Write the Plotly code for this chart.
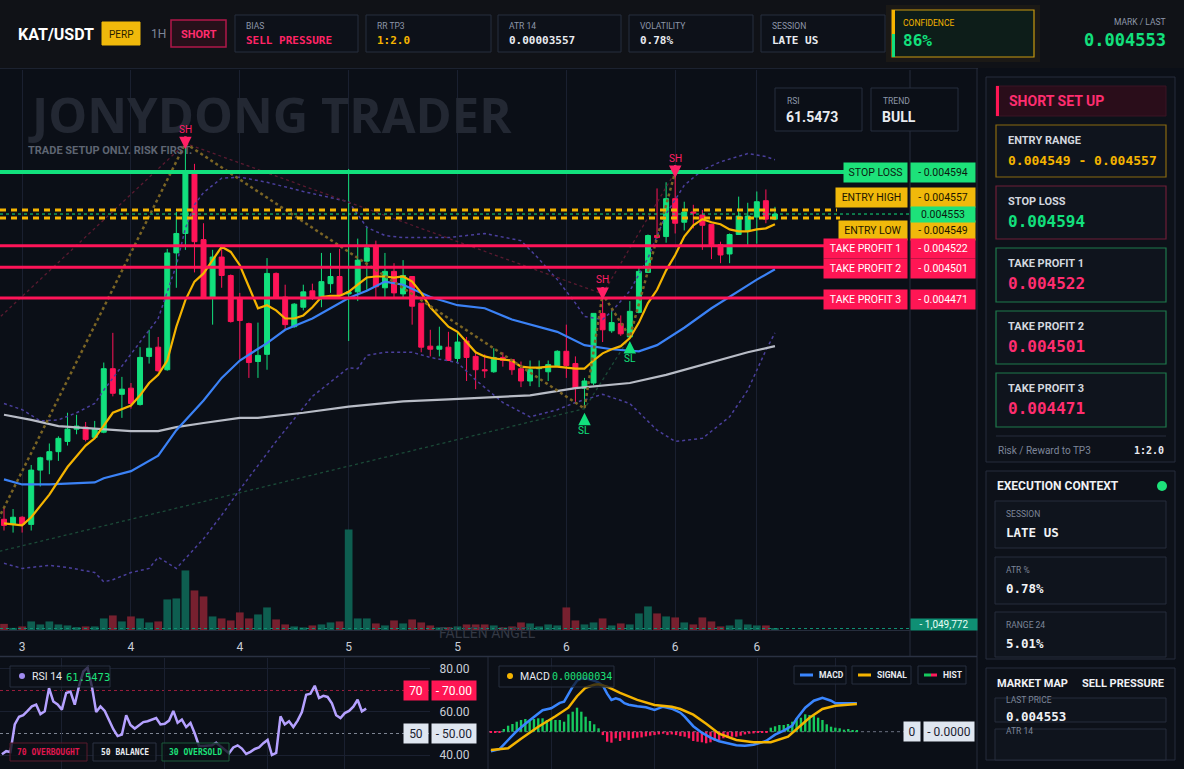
import plotly.graph_objects as go

W, H = 1184, 769

# ---- KAT/USDT 1H candles, oldest first ----
open_ = [0.004255, 0.004250, 0.004257, 0.004250, 0.004303, 0.004313, 0.004321, 0.004331, 0.004343, 0.004345,
         0.004335, 0.004340, 0.004402, 0.004377, 0.004383, 0.004367, 0.004414, 0.004423, 0.004401, 0.004515,
         0.004534, 0.004594, 0.004528, 0.004472, 0.004511, 0.004493, 0.004470, 0.004446, 0.004409, 0.004416,
         0.004495, 0.004472, 0.004443, 0.004462, 0.004478, 0.004472, 0.004485, 0.004492, 0.004475, 0.004477,
         0.004507, 0.004522, 0.004481, 0.004497, 0.004475, 0.004492, 0.004466, 0.004424, 0.004421, 0.004423,
         0.004412, 0.004429, 0.004414, 0.004401, 0.004399, 0.004413, 0.004411, 0.004402, 0.004390, 0.004402,
         0.004399, 0.004405, 0.004419, 0.004407, 0.004383, 0.004388, 0.004456, 0.004439, 0.004446, 0.004433,
         0.004457, 0.004496, 0.004532, 0.004531, 0.004568, 0.004545, 0.004555, 0.004552, 0.004543, 0.004523,
         0.004514, 0.004533, 0.004537, 0.004550, 0.004566, 0.004548]
high = [0.004266, 0.004265, 0.004258, 0.004308, 0.004316, 0.004329, 0.004336, 0.004359, 0.004357, 0.004350,
        0.004351, 0.004408, 0.004437, 0.004394, 0.004388, 0.004423, 0.004440, 0.004433, 0.004519, 0.004555,
        0.004622, 0.004602, 0.004544, 0.004518, 0.004523, 0.004494, 0.004476, 0.004447, 0.004447, 0.004510,
        0.004496, 0.004484, 0.004466, 0.004484, 0.004485, 0.004515, 0.004515, 0.004519, 0.004597, 0.004529,
        0.004541, 0.004527, 0.004515, 0.004505, 0.004508, 0.004492, 0.004466, 0.004440, 0.004443, 0.004438,
        0.004438, 0.004433, 0.004419, 0.004416, 0.004422, 0.004418, 0.004411, 0.004409, 0.004410, 0.004410,
        0.004410, 0.004420, 0.004445, 0.004414, 0.004393, 0.004456, 0.004475, 0.004460, 0.004454, 0.004468,
        0.004502, 0.004533, 0.004578, 0.004584, 0.004594, 0.004565, 0.004562, 0.004557, 0.004543, 0.004526,
        0.004534, 0.004570, 0.004564, 0.004575, 0.004577, 0.004560]
low = [0.004244, 0.004242, 0.004242, 0.004244, 0.004287, 0.004299, 0.004312, 0.004327, 0.004338, 0.004331,
       0.004334, 0.004339, 0.004375, 0.004354, 0.004363, 0.004366, 0.004407, 0.004399, 0.004400, 0.004481,
       0.004518, 0.004496, 0.004471, 0.004445, 0.004481, 0.004447, 0.004411, 0.004393, 0.004393, 0.004401,
       0.004472, 0.004440, 0.004442, 0.004459, 0.004469, 0.004462, 0.004476, 0.004471, 0.004429, 0.004468,
       0.004479, 0.004472, 0.004472, 0.004471, 0.004470, 0.004445, 0.004418, 0.004414, 0.004414, 0.004410,
       0.004407, 0.004390, 0.004382, 0.004393, 0.004398, 0.004404, 0.004396, 0.004384, 0.004385, 0.004384,
       0.004390, 0.004404, 0.004393, 0.004368, 0.004363, 0.004386, 0.004428, 0.004437, 0.004434, 0.004433,
       0.004456, 0.004496, 0.004529, 0.004525, 0.004534, 0.004537, 0.004539, 0.004518, 0.004509, 0.004505,
       0.004505, 0.004533, 0.004523, 0.004524, 0.004544, 0.004547]
close = [0.004249, 0.004257, 0.004250, 0.004303, 0.004315, 0.004321, 0.004334, 0.004343, 0.004346, 0.004333,
         0.004343, 0.004402, 0.004378, 0.004382, 0.004368, 0.004413, 0.004422, 0.004400, 0.004515, 0.004534,
         0.004594, 0.004526, 0.004472, 0.004511, 0.004493, 0.004448, 0.004449, 0.004408, 0.004415, 0.004495,
         0.004472, 0.004445, 0.004465, 0.004477, 0.004471, 0.004487, 0.004492, 0.004474, 0.004477, 0.004508,
         0.004520, 0.004482, 0.004497, 0.004476, 0.004493, 0.004463, 0.004423, 0.004421, 0.004424, 0.004410,
         0.004428, 0.004413, 0.004401, 0.004400, 0.004413, 0.004410, 0.004401, 0.004390, 0.004401, 0.004403,
         0.004406, 0.004419, 0.004405, 0.004383, 0.004390, 0.004456, 0.004440, 0.004447, 0.004436, 0.004458,
         0.004497, 0.004532, 0.004530, 0.004568, 0.004544, 0.004555, 0.004554, 0.004542, 0.004523, 0.004513,
         0.004533, 0.004551, 0.004551, 0.004565, 0.004548, 0.004553]
volume = [4.3e6, 1.5e6, 2.5e6, 6.0e6, 3.9e6, 6.0e6, 3.9e6, 3.2e6, 2.0e6, 2.5e6,
          2.5e6, 8.1e6, 10.2e6, 6.0e6, 9.5e6, 8.1e6, 5.3e6, 6.0e6, 21.4e6, 22.1e6,
          41.7e6, 27.7e6, 23.5e6, 9.5e6, 8.1e6, 6.7e6, 12.3e6, 8.1e6, 10.9e6, 15.8e6,
          7.4e6, 3.9e6, 2.5e6, 1.8e6, 3.2e6, 3.9e6, 5.3e6, 6.0e6, 70.4e6, 8.1e6,
          8.1e6, 4.6e6, 3.2e6, 6.7e6, 4.6e6, 7.4e6, 5.3e6, 3.2e6, 1.8e6, 2.0e6,
          2.5e6, 3.9e6, 3.9e6, 3.9e6, 3.2e6, 1.8e6, 2.5e6, 5.3e6, 4.6e6, 2.5e6,
          3.9e6, 3.2e6, 15.8e6, 6.7e6, 3.9e6, 5.3e6, 8.1e6, 3.2e6, 4.6e6, 3.9e6,
          11.6e6, 16.5e6, 11.6e6, 9.5e6, 8.8e6, 5.3e6, 3.9e6, 8.8e6, 6.0e6, 2.5e6,
          3.2e6, 7.4e6, 3.9e6, 3.2e6, 3.2e6, 1049772]

# moving averages / bands at these candle indices
ema_fast_x = [0, 2, 3, 5, 7, 9, 10, 11, 12, 14] + list(range(15, 86))
ema_fast = [0.004251, 0.004249, 0.004257, 0.004279, 0.004306, 0.004327, 0.004334, 0.004347, 0.004359, 0.004366,
            0.004376, 0.004388, 0.004396, 0.004410, 0.004443, 0.004469, 0.004487, 0.004495, 0.004508, 0.004521,
            0.004516, 0.004503, 0.004482, 0.004461, 0.004464, 0.004459, 0.004451, 0.004451, 0.004454, 0.004462,
            0.004472, 0.004473, 0.004473, 0.004477, 0.004484, 0.004491, 0.004492, 0.004492, 0.004491, 0.004492,
            0.004487, 0.004476, 0.004462, 0.004452, 0.004443, 0.004438, 0.004428, 0.004418, 0.004414, 0.004412,
            0.004411, 0.004410, 0.004404, 0.004403, 0.004403, 0.004404, 0.004404, 0.004403, 0.004402, 0.004402,
            0.004410, 0.004417, 0.004421, 0.004424, 0.004432, 0.004447, 0.004466, 0.004479, 0.004498, 0.004513,
            0.004531, 0.004542, 0.004548, 0.004545, 0.004543, 0.004538, 0.004536, 0.004536, 0.004538, 0.004539,
            0.004543]
ema_mid_x = [0, 2, 5, 10, 11, 14, 17, 19, 22, 24, 26, 29, 31, 34, 38, 40, 42, 44, 47, 50, 53, 56, 61, 64,
             67, 70, 72, 75, 78, 80, 83, 85]
ema_mid = [0.004294, 0.004289, 0.004289, 0.004291, 0.004295, 0.004302, 0.004317, 0.004342, 0.004371, 0.004393,
           0.004410, 0.004427, 0.004440, 0.004451, 0.004471, 0.004478, 0.004487, 0.004484, 0.004472, 0.004464,
           0.004461, 0.004450, 0.004438, 0.004425, 0.004421, 0.004419, 0.004425, 0.004442, 0.004461, 0.004472,
           0.004489, 0.004499]
ema_slow_x = [0, 3, 6, 9, 14, 17, 19, 22, 26, 28, 33, 38, 44, 49, 58, 63, 69, 73, 78, 82, 85]
ema_slow = [0.004357, 0.004352, 0.004346, 0.004344, 0.004341, 0.004341, 0.004345, 0.004349, 0.004354, 0.004354,
            0.004359, 0.004365, 0.004370, 0.004372, 0.004376, 0.004383, 0.004388, 0.004396, 0.004408, 0.004418,
            0.004424]
bb_upper_x = [0, 2, 4, 6, 8, 10, 11, 13, 15, 17, 19, 20, 21, 22, 24, 26, 29, 33, 35, 38, 40, 42, 44, 49, 53,
              57, 59, 61, 63, 64, 66, 67, 69, 71, 73, 75, 77, 79, 82, 84, 85]
bb_upper = [0.004368, 0.004362, 0.004351, 0.004352, 0.004359, 0.004368, 0.004381, 0.004405, 0.004428, 0.004451,
            0.004503, 0.004539, 0.004562, 0.004574, 0.004588, 0.004589, 0.004584, 0.004575, 0.004571, 0.004565,
            0.004540, 0.004532, 0.004530, 0.004530, 0.004534, 0.004527, 0.004509, 0.004489, 0.004466, 0.004453,
            0.004450, 0.004458, 0.004478, 0.004510, 0.004553, 0.004581, 0.004596, 0.004604, 0.004612, 0.004609,
            0.004606]
bb_lower_x = [0, 2, 5, 7, 10, 11, 12, 14, 16, 17, 19, 22, 24, 26, 30, 34, 38, 39, 40, 42, 45, 47, 50, 52, 55,
              58, 61, 63, 66, 69, 72, 74, 77, 80, 82, 84, 85]
bb_lower = [0.004212, 0.004207, 0.004210, 0.004208, 0.004203, 0.004194, 0.004196, 0.004203, 0.004207, 0.004218,
            0.004207, 0.004236, 0.004259, 0.004284, 0.004331, 0.004375, 0.004403, 0.004402, 0.004415, 0.004418,
            0.004418, 0.004413, 0.004408, 0.004391, 0.004369, 0.004355, 0.004362, 0.004369, 0.004377, 0.004368,
            0.004342, 0.004331, 0.004334, 0.004355, 0.004381, 0.004420, 0.004437]

# swing structure
swing_high_idx = [20, 66, 74]
swing_low_idx = [64, 69]
zigzag_start = (-3, 0.004213)
high_line_start = (-10, 0.004373)
low_line_start = (-5, 0.004214)

# trade levels
level_names = ['STOP LOSS', 'ENTRY HIGH', 'ENTRY LOW', 'TAKE PROFIT 1', 'TAKE PROFIT 2', 'TAKE PROFIT 3']
level_prices = [0.004594, 0.004557, 0.004549, 0.004522, 0.004501, 0.004471]
last_price = 0.004553

# RSI 14
rsi = [40.3, 41.8, 41.4, 54.2, 57.8, 58.5, 60.5, 62.6, 63.4, 59.0,
       60.3, 71.1, 64.9, 63.5, 61.1, 68.8, 69.5, 63.4, 72.0, 78.8,
       80.6, 71.8, 60.0, 62.6, 60.5, 56.0, 52.0, 48.8, 49.5, 58.5,
       54.0, 52.3, 54.0, 55.3, 55.7, 56.5, 57.2, 54.2, 54.5, 56.0,
       60.5, 55.0, 56.5, 53.0, 54.9, 50.0, 44.2, 44.2, 44.2, 44.5,
       45.7, 44.0, 42.6, 40.8, 43.5, 44.5, 43.0, 40.5, 41.5, 42.8,
       43.5, 45.5, 47.0, 40.0, 41.0, 58.0, 54.2, 55.7, 53.0, 56.0,
       60.0, 68.0, 68.5, 72.2, 66.5, 67.5, 67.0, 64.0, 58.5, 57.2,
       59.5, 60.5, 62.5, 65.7, 60.3, 61.5473]

# MACD (values in 1e-6 price units)
macd_x = [0, 2, 4, 6, 8, 10, 12, 14, 15, 16, 17, 18, 19, 20, 21, 22, 24, 25, 26, 27, 28, 29, 30, 31, 32, 34,
          36, 38, 40, 42, 44, 45, 47, 49, 51, 53, 55, 57, 59, 61, 63, 64, 66, 68, 70, 71, 73, 75, 77, 79, 80,
          83, 85]
macd_line = [-3.9, -3.5, -1.66, 0.1, 1.6, 3.0, 4.3, 4.68, 5.2, 5.76, 6.0, 7.6, 9.0, 10.2, 10.6, 10.68, 10.2,
             9.8, 9.2, 7.6, 6.34, 6.68, 6.4, 5.7, 5.4, 5.1, 4.9, 4.34, 5.0, 4.6, 3.8, 3.0, 1.1, -0.2, -1.2,
             -1.9, -2.3, -2.7, -2.8, -2.6, -2.1, -1.8, -0.6, 0.2, 1.2, 2.6, 4.8, 6.2, 6.8, 6.2, 5.68, 5.68, 5.68]
signal_x = [0, 4, 7, 11, 15, 17, 18, 20, 22, 24, 25, 27, 30, 34, 38, 42, 44, 47, 50, 53, 57, 61, 65, 69, 72,
            74, 77, 80, 85]
signal_line = [-3.66, -3.32, -1.4, 1.0, 3.1, 4.2, 4.8, 7.1, 8.8, 9.4, 9.48, 9.0, 7.76, 6.36, 5.34, 5.0, 4.54,
               3.4, 1.6, -0.4, -1.66, -2.12, -2.12, -1.0, 1.34, 2.8, 4.54, 5.2, 5.54]
macd_hist = [-0.2, -0.2, -0.14, 0.54, 1.2, 1.54, 2.0, 2.34, 2.54, 2.34,
             2.54, 2.68, 2.68, 2.34, 2.68, 2.34, 2.34, 2.0, 3.48, 4.0,
             4.8, 4.0, 3.0, 2.14, 1.48, 0.68, -0.68, -2.0, -2.2, -1.32,
             -1.86, -1.2, -1.66, -1.32, -1.2, -1.14, -0.94, -0.8, -0.68, -0.54,
             -0.4, -0.68, -0.54, -0.68, -0.88, -1.0, -1.32, -1.86, -2.0, -2.12,
             -2.32, -2.12, -1.86, -1.66, -1.32, -1.2, -1.0, -1.0, -0.8, -0.54,
             -0.4, -0.34, -0.2, -0.14, -0.14, 0.8, 1.08, 1.34, 1.34, 1.54,
             2.0, 2.68, 2.8, 3.48, 3.34, 3.2, 2.8, 2.34, 1.48, 1.0,
             0.8, 0.68, 0.4, 0.54, 0.28, 0.34]

x_tick_idx = [2, 14, 26, 38, 50, 62, 74, 83]
x_tick_text = ['3', '4', '4', '5', '5', '6', '6', '6']
sub_grid_idx = [14, 38, 62, 80]

# ------------------------------------------------------------------
UP, DN = '#12e07d', '#ff1458'
YEL, BLUE, GREY = '#f5b400', '#3b82f6', '#b8bcc6'
BG, GRID, BORDER = '#0b0f17', '#1a2030', '#262d3c'
MONO, SANS = 'DejaVu Sans Mono', 'Roboto'
XR = [-0.441, 99.89]
n = len(close)
idx = list(range(n))


def px(x):
    return x / W


def py(y):
    return 1 - y / H


shapes, ann = [], []


def rect(x0, y0, x1, y1, fill='rgba(0,0,0,0)', line='rgba(0,0,0,0)', lw=1, layer='above'):
    shapes.append(dict(type='rect', xref='paper', yref='paper', x0=px(x0), x1=px(x1), y0=py(y1), y1=py(y0),
                       fillcolor=fill, line=dict(color=line, width=lw), layer=layer))


def seg(x0, y0, x1, y1, color, lw=1, dash='solid', layer='above'):
    shapes.append(dict(type='line', xref='paper', yref='paper', x0=px(x0), x1=px(x1), y0=py(y0), y1=py(y1),
                       line=dict(color=color, width=lw, dash=dash), layer=layer))


def txt(x, y, s, size, color, family=SANS, anchor='left', bold=False):
    ann.append(dict(xref='paper', yref='paper', x=px(x), y=py(y), text='<b>%s</b>' % s if bold else s,
                    showarrow=False, xanchor=anchor, yanchor='middle',
                    font=dict(size=size, color=color, family=family)))


fig = go.Figure()

# volume (base axis y), price on overlay y2
vol_cols = ['#0e5e50' if c >= o else '#77202f' for o, c in zip(open_, close)]
fig.add_trace(go.Bar(x=idx, y=volume, marker_color=vol_cols, marker_line_width=0, width=0.85,
                     xaxis='x', yaxis='y', hoverinfo='skip'))

band = dict(color='#4a3f9c', width=1.5, dash='dot')
fig.add_trace(go.Scatter(x=bb_upper_x, y=bb_upper, mode='lines', line=band, xaxis='x', yaxis='y2'))
fig.add_trace(go.Scatter(x=bb_lower_x, y=bb_lower, mode='lines', line=band, xaxis='x', yaxis='y2'))

# swing connectors
hx = [high_line_start[0]] + swing_high_idx
hy = [high_line_start[1]] + [high[i] for i in swing_high_idx]
fig.add_trace(go.Scatter(x=hx, y=hy, mode='lines', line=dict(color='#5a1a30', width=1.3, dash='dot'),
                         xaxis='x', yaxis='y2'))
lx = [low_line_start[0]] + swing_low_idx
ly = [low_line_start[1]] + [low[i] for i in swing_low_idx]
fig.add_trace(go.Scatter(x=lx, y=ly, mode='lines', line=dict(color='#1b4a38', width=1.3, dash='dot'),
                         xaxis='x', yaxis='y2'))

fig.add_trace(go.Scatter(x=ema_slow_x, y=ema_slow, mode='lines', line=dict(color=GREY, width=2.2),
                         xaxis='x', yaxis='y2'))
fig.add_trace(go.Candlestick(x=idx, open=open_, high=high, low=low, close=close, xaxis='x', yaxis='y2',
                             increasing=dict(line=dict(color=UP, width=1), fillcolor=UP),
                             decreasing=dict(line=dict(color=DN, width=1), fillcolor=DN),
                             whiskerwidth=0, hoverinfo='skip'))
fig.add_trace(go.Scatter(x=ema_mid_x, y=ema_mid, mode='lines', line=dict(color=BLUE, width=2.2),
                         xaxis='x', yaxis='y2'))
fig.add_trace(go.Scatter(x=ema_fast_x, y=ema_fast, mode='lines', line=dict(color=YEL, width=2.2),
                         xaxis='x', yaxis='y2'))

swings = sorted([(i, high[i]) for i in swing_high_idx] + [(i, low[i]) for i in swing_low_idx])
zx = [zigzag_start[0]] + [s[0] for s in swings]
zy = [zigzag_start[1]] + [s[1] for s in swings]
fig.add_trace(go.Scatter(x=zx, y=zy, mode='lines', line=dict(color='#7a6424', width=2.5, dash='dot'),
                         xaxis='x', yaxis='y2'))

# RSI
fig.add_trace(go.Scatter(x=idx, y=rsi, mode='lines', line=dict(color='#b5a1ff', width=2.5),
                         xaxis='x2', yaxis='y3'))

# MACD
hist_vals = [v * 1e-6 for v in macd_hist]
fig.add_trace(go.Bar(x=idx, y=hist_vals, width=0.55, marker_line_width=0,
                     marker_color=['#16c95e' if v >= 0 else '#ff1a5c' for v in macd_hist],
                     xaxis='x3', yaxis='y4'))
fig.add_trace(go.Scatter(x=macd_x, y=[v * 1e-6 for v in macd_line], mode='lines',
                         line=dict(color='#3a86ff', width=2.5), xaxis='x3', yaxis='y4'))
fig.add_trace(go.Scatter(x=signal_x, y=[v * 1e-6 for v in signal_line], mode='lines',
                         line=dict(color=YEL, width=2.5), xaxis='x3', yaxis='y4'))

# ---------------- frame ----------------
rect(0, 0, W, 68, fill='#101217', layer='below')
seg(0, 68.5, 978, 68.5, '#1c2230')
seg(910, 70, 910, 656, BORDER)
seg(977, 68, 977, 769, BORDER)
seg(0, 656.5, 977, 656.5, '#2a3142', lw=1.5)
seg(488, 657, 488, 769, BORDER)

# ---------------- header ----------------
txt(16, 34, 'KAT/USDT', 16, '#ffffff', bold=True)
rect(102, 22, 140, 45, fill='#f0b90b', line='#f0b90b')
txt(121, 34, 'PERP', 10, '#2a1f00', anchor='center')
txt(149, 34, '1H', 12, '#7d8699')
rect(171, 20, 226, 47, fill='#26101a', line='#b0174a', lw=1.5)
txt(198.5, 34, 'SHORT', 11, '#ff2d6f', anchor='center', bold=True)
cards = [('BIAS', 'SELL PRESSURE', '#ff2466', 235, 358), ('RR TP3', '1:2.0', YEL, 366, 491),
         ('ATR 14', '0.00003557', '#e8ebf0', 498, 621), ('VOLATILITY', '0.78%', '#e8ebf0', 629, 753),
         ('SESSION', 'LATE US', '#e8ebf0', 761, 885)]
for lab, val, col, x0, x1 in cards:
    rect(x0, 15, x1, 52, fill='#0d1119', line='#272f3e')
    txt(x0 + 9, 26, lab, 8.5, '#8d97aa')
    txt(x0 + 9, 41, val, 11, col, family=MONO, bold=True)
rect(886, 5, 1040, 62, fill='rgba(201,154,16,0.06)')
rect(892, 10, 1034, 57, fill='#0d1d19', line='#c99a10', lw=1.2)
rect(892, 10, 895, 34, fill=YEL)
rect(892, 34, 895, 57, fill=UP)
txt(901, 23, 'CONFIDENCE', 8.5, YEL)
txt(901, 40, '86%', 16, UP, family=MONO, bold=True)
txt(1168, 22, 'MARK / LAST', 8.5, '#8d97aa', anchor='right')
txt(1168, 40, '0.004553', 17, UP, family=MONO, bold=True, anchor='right')

# ---------------- main chart overlays ----------------
txt(26, 114, 'JONYDONG TRADER', 49, '#232833', family='Open Sans', bold=True)
txt(26, 150, 'TRADE SETUP ONLY. RISK FIRST.', 11, '#5e6572', bold=True)
txt(487, 633, 'FALLEN ANGEL', 14, '#333844', anchor='center')
for x0, x1, lab, val in [(775, 862, 'RSI', '61.5473'), (871, 958, 'TREND', 'BULL')]:
    rect(x0, 88, x1, 131, fill=BG, line='#272f3e')
    txt(x0 + 10, 101, lab, 8.5, '#8d97aa')
    txt(x0 + 9, 117, val, 14, '#e8ebf0', bold=True)

# level lines
line_end = [845, 837, 840, 825, 825, 825]
line_sty = [(UP, 4, 'solid'), (YEL, 3, '6px,5px'), (YEL, 3, '6px,5px'),
            (DN, 3, 'solid'), (DN, 3, 'solid'), (DN, 3, 'solid')]
for p, x1, (col, lw, dash) in zip(level_prices, line_end, line_sty):
    shapes.append(dict(type='line', xref='paper', yref='y2', x0=0, x1=px(x1), y0=p, y1=p,
                       line=dict(color=col, width=lw, dash=dash), layer='above'))
shapes.append(dict(type='line', xref='paper', yref='y2', x0=0, x1=px(910), y0=last_price, y1=last_price,
                   line=dict(color=UP, width=1, dash='dot'), layer='above'))

tag_bg = ['#1de27a', '#f0b90b', '#f0b90b', '#ff1654', '#ff1654', '#ff1654']
tag_fg = ['#0b1a10', '#1d1600', '#1d1600', '#ffffff', '#ffffff', '#ffffff']
tag_w = [63, 71, 68, 83, 83, 83]
tag_shift = [0, 12.5, -12.5, -2.7, -1.5, -1.5]
for name, p, bg, fg, w, sh in zip(level_names, level_prices, tag_bg, tag_fg, tag_w, tag_shift):
    ann.append(dict(xref='paper', yref='y2', x=px(908), y=p, xanchor='right', yanchor='middle', yshift=sh,
                    text=name, showarrow=False, bgcolor=bg, width=w, height=19, borderpad=0,
                    font=dict(size=10.5, color=fg, family=SANS)))
    ann.append(dict(xref='paper', yref='y2', x=px(910), y=p, xanchor='left', yanchor='middle', yshift=sh,
                    text='- %.6f' % p, showarrow=False, bgcolor=bg, width=64, height=19, borderpad=0,
                    font=dict(size=10.5, color=fg, family=SANS)))
ann.append(dict(xref='paper', yref='y2', x=px(910), y=last_price, xanchor='left', yanchor='middle',
                text='%.6f' % last_price, showarrow=False, bgcolor='#1de27a', width=64, height=15,
                borderpad=0, font=dict(size=10.5, color='#0b1a10', family=SANS)))
ann.append(dict(xref='paper', yref='y', x=px(910), y=volume[-1], xanchor='left', yanchor='middle', yshift=4,
                text='- {:,.0f}'.format(volume[-1]), showarrow=False, bgcolor='#0f8f74', width=66, height=11,
                borderpad=0, font=dict(size=10, color='#e8fff6', family=SANS)))
shapes.append(dict(type='line', xref='paper', yref='y', x0=0, x1=px(910), y0=volume[-1], y1=volume[-1],
                   line=dict(color='#0f8f74', width=1, dash='dot'), layer='above'))

# swing markers: the arrow tip sits a little into the wick, as on the reference
for i in swing_high_idx:
    ann.append(dict(xref='x', yref='y2', x=i, y=high[i], yshift=-6, text='SH', showarrow=True, ax=0, ay=-20,
                    arrowhead=2, arrowsize=1, arrowwidth=2.5, arrowcolor='#ff1f66', standoff=0,
                    font=dict(size=10, color='#ff1f66', family=SANS)))
for i in swing_low_idx:
    ann.append(dict(xref='x', yref='y2', x=i, y=low[i], text='SL', showarrow=True, ax=0, ay=22,
                    arrowhead=2, arrowsize=1, arrowwidth=2.5, arrowcolor=UP, standoff=4,
                    font=dict(size=10, color=UP, family=SANS)))

# ---------------- RSI panel ----------------
for lvl, col in [(70, '#9c1d3d'), (50, '#7d8492')]:
    shapes.append(dict(type='line', xref='paper', yref='y3', x0=0, x1=px(430), y0=lvl, y1=lvl,
                       line=dict(color=col, width=1, dash='dot'), layer='below'))
for lvl, bg, fg in [(70, '#ff1654', '#ffffff'), (50, '#dfe6f0', '#1b2230'), (30, '#1de27a', '#0b1a10')]:
    ann.append(dict(xref='paper', yref='y3', x=px(429), y=lvl, xanchor='right', yanchor='middle',
                    text=str(lvl), showarrow=False, bgcolor=bg, width=24, height=19, borderpad=0,
                    font=dict(size=12, color=fg, family=SANS)))
    ann.append(dict(xref='paper', yref='y3', x=px(431), y=lvl, xanchor='left', yanchor='middle',
                    text='- %.2f' % lvl, showarrow=False, bgcolor=bg, width=44, height=19, borderpad=0,
                    font=dict(size=12, color=fg, family=SANS)))
rect(10, 666, 110, 687, fill='rgba(11,15,23,0.72)', line='#272f3e')
shapes.append(dict(type='circle', xref='paper', yref='paper', x0=px(19), x1=px(25), y0=py(679), y1=py(673),
                   fillcolor='#a08cf0', line=dict(width=0)))
txt(30, 676.5, 'RSI 14', 10.5, '#e8ebf0')
txt(64, 676.5, '61.5473', 10.5, '#1de27a', family=MONO)
for x0, x1, s, col, bd in [(10, 87, '70 OVERBOUGHT', '#e0174f', '#5a1a2c'), (93, 156, '50 BALANCE', '#e8ebf0', '#2c3342'),
                           (162, 229, '30 OVERSOLD', '#1de27a', '#1b5a3a')]:
    rect(x0, 743, x1, 761, fill='rgba(11,15,23,0.8)', line=bd)
    txt((x0 + x1) / 2, 752, s, 8, col, family=MONO, anchor='center', bold=True)

# ---------------- MACD panel ----------------
shapes.append(dict(type='line', xref='paper', yref='y4', x0=px(489), x1=px(905), y0=0, y1=0,
                   line=dict(color='#6b7180', width=1, dash='dot'), layer='below'))
ann.append(dict(xref='paper', yref='y4', x=px(921), y=0, xanchor='right', yanchor='middle', text='0',
                showarrow=False, bgcolor='#dfe6f0', width=16, height=19, borderpad=0,
                font=dict(size=12, color='#1b2230', family=SANS)))
ann.append(dict(xref='paper', yref='y4', x=px(923), y=0, xanchor='left', yanchor='middle', text='- 0.0000',
                showarrow=False, bgcolor='#dfe6f0', width=50, height=19, borderpad=0,
                font=dict(size=12, color='#1b2230', family=SANS)))
rect(499, 666, 614, 687, fill='rgba(11,15,23,0.72)', line='#272f3e')
shapes.append(dict(type='circle', xref='paper', yref='paper', x0=px(507), x1=px(513), y0=py(679), y1=py(673),
                   fillcolor=YEL, line=dict(width=0)))
txt(518, 676.5, 'MACD', 10.5, '#e8ebf0')
txt(550, 676.5, '0.00000034', 10, '#1de27a', family=MONO)
for x0, x1, s, col in [(794, 846, 'MACD', '#3a86ff'), (852, 911, 'SIGNAL', YEL), (918, 966, 'HIST', None)]:
    rect(x0, 666, x1, 684, fill='rgba(11,15,23,0.85)', line='#272f3e')
    if col:
        seg(x0 + 6, 675, x0 + 19, 675, col, lw=3)
    else:
        seg(x0 + 6, 675, x0 + 13, 675, '#16c95e', lw=3)
        seg(x0 + 13, 675, x0 + 19, 675, '#ff1a5c', lw=3)
    txt(x0 + 23, 675, s, 8.5, '#e8ebf0', bold=True)

# ---------------- right panel ----------------
rect(986, 77, 1175, 462, fill='#0d1119', line=BORDER)
rect(996, 86, 1166, 116, fill='#2a0d1a', line='#3a1424')
rect(996, 86, 999, 116, fill='#ff1654')
txt(1007, 101, 'SHORT SET UP', 14, '#ff2d6f', bold=True)
cards_r = [(125, 177, 'ENTRY RANGE', '%.6f - %.6f' % (level_prices[2], level_prices[1]), YEL, '#8a6a10', 13),
           (186, 239, 'STOP LOSS', '%.6f' % level_prices[0], UP, '#6e1f38', 16),
           (248, 302, 'TAKE PROFIT 1', '%.6f' % level_prices[3], '#ff2d6f', '#1e7a4c', 16),
           (311, 364, 'TAKE PROFIT 2', '%.6f' % level_prices[4], '#ff2d6f', '#1e7a4c', 16),
           (373, 427, 'TAKE PROFIT 3', '%.6f' % level_prices[5], '#ff2d6f', '#1e7a4c', 16)]
for y0, y1, lab, val, col, bd, fs in cards_r:
    rect(996, y0, 1166, y1, fill='#0f141d', line=bd, lw=1.2)
    txt(1006, y0 + 15, lab, 11, '#d3d7df', bold=True)
    txt(1006, y0 + 35, val, fs, col, family=MONO, bold=True)
seg(996, 436, 1166, 436, '#262d3c')
txt(996, 450.5, 'Risk / Reward to TP3', 10, '#7d8699')
txt(1166, 450.5, '1:2.0', 10, '#e8ebf0', family=MONO, anchor='right', bold=True)

rect(986, 471, 1175, 659, fill='#0d1119', line=BORDER)
txt(995, 486, 'EXECUTION CONTEXT', 12, '#f0f2f5', bold=True)
shapes.append(dict(type='circle', xref='paper', yref='paper', x0=px(1157), x1=px(1167), y0=py(491),
                   y1=py(481), fillcolor='#1de27a', line=dict(width=0)))
for y0, y1, lab, val in [(501, 548, 'SESSION', 'LATE US'), (557, 604, 'ATR %', '0.78%'),
                         (612, 657, 'RANGE 24', '5.01%')]:
    rect(995, y0, 1166, y1, fill='#0f141d', line='#262d3c')
    txt(1004, y0 + 12.5, lab, 8.5, '#7d8699')
    txt(1004, y0 + 31.5, val, 12.5, '#f0f2f5', family=MONO, bold=True)

rect(986, 668, 1175, 760, fill='#0d1119', line=BORDER)
txt(995, 683, 'MARKET MAP', 11, '#f0f2f5', bold=True)
txt(1166, 683, 'SELL PRESSURE', 11, '#f0f2f5', anchor='right', bold=True)
rect(995, 698, 1166, 722, fill='#0f141d', line='#262d3c')
txt(1004, 700, 'LAST PRICE', 8.5, '#7d8699')
txt(1004, 716.5, '%.6f' % last_price, 12.5, '#f0f2f5', family=MONO, bold=True)
rect(995, 729, 1166, 760, fill='#0f141d', line='#262d3c')
txt(1004, 731, 'ATR 14', 8.5, '#7d8699')

# ---------------- layout ----------------
axis_font = dict(size=12, color='#c9ced8', family=SANS)
fig.update_layout(
    width=W, height=H, margin=dict(l=0, r=0, t=0, b=0), autosize=False,
    paper_bgcolor=BG, plot_bgcolor='rgba(0,0,0,0)', showlegend=False, hovermode=False,
    boxgap=0.22, shapes=shapes, annotations=ann,
    xaxis=dict(domain=[0, px(910)], range=XR, anchor='y', tickvals=x_tick_idx, ticktext=x_tick_text,
               showgrid=True, gridcolor=GRID, zeroline=False, showline=True, linecolor=BORDER,
               ticks='outside', ticklen=6, tickcolor='rgba(0,0,0,0)', tickfont=axis_font,
               rangeslider=dict(visible=False), automargin=False),
    yaxis=dict(domain=[py(630), py(70)], range=[0, 392e6], visible=False, automargin=False),
    yaxis2=dict(overlaying='y', anchor='x', range=[0.0041469, 0.0046936], visible=False),
    xaxis2=dict(domain=[0, px(430)], range=XR, anchor='y3', tickvals=sub_grid_idx, showticklabels=False,
                showgrid=True, gridcolor=GRID, zeroline=False, automargin=False),
    yaxis3=dict(domain=[0, py(658)], anchor='x2', side='right', range=[33.5, 85.1], tickvals=[40, 60, 80],
                ticktext=['40.00', '60.00', '80.00'], showgrid=True, gridcolor=GRID, zeroline=False,
                tickfont=axis_font, ticks='outside', ticklen=6, tickcolor='rgba(0,0,0,0)', automargin=False),
    xaxis3=dict(domain=[px(489), px(921)], range=XR, anchor='y4', tickvals=sub_grid_idx,
                showticklabels=False, showgrid=True, gridcolor=GRID, zeroline=False, automargin=False),
    yaxis4=dict(domain=[0, py(658)], anchor='x3', range=[-7.46e-6, 1.474e-5], visible=False),
)

# the page's default 8px body margin would shift the whole dashboard
fig.write_html("out.html", config={'displayModeBar': False},
               post_script="document.body.style.margin='0px';")
